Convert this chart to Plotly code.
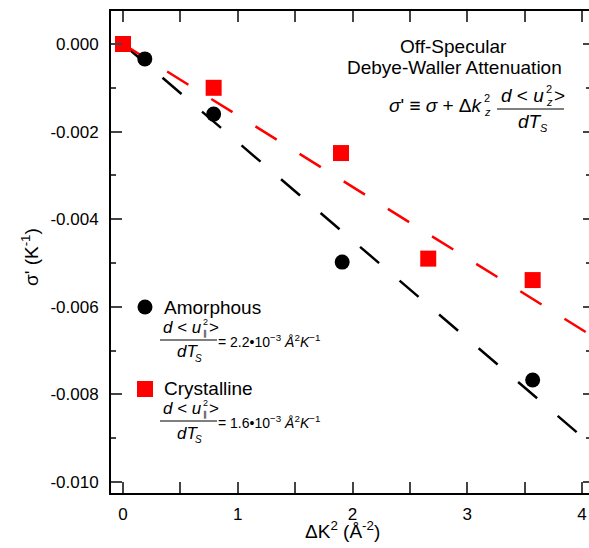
import plotly.graph_objects as go

# ---------------- data ----------------
amorph_x = [0.19, 0.79, 1.91, 3.57]
amorph_y = [-0.00034, -0.0016, -0.00498, -0.00767]
cryst_x = [0.0, 0.79, 1.90, 2.66, 3.57]
cryst_y = [0.0, -0.0010, -0.00249, -0.0049, -0.00539]
fit_x = [0.0, 4.06]
amorph_fit = [0.0, -0.00910]
cryst_fit = [0.0, -0.00662]
x_ticks = [0, 1, 2, 3, 4]
y_ticks = [0.0, -0.002, -0.004, -0.006, -0.008, -0.010]
y_ticklabels = ["0.000", "-0.002", "-0.004", "-0.006", "-0.008", "-0.010"]

W, H = 589, 548
L, R, T, B = 111, 589, 11, 493
FONT = "Arial, Liberation Sans, sans-serif"
SP = "\u00a0"


def px(x):
    return (x - L) / (R - L)


def py(y):
    return (B - y) / (B - T)


fig = go.Figure()
fig.add_trace(go.Scatter(x=fit_x, y=amorph_fit, mode="lines",
                         line=dict(color="black", width=2.5, dash="25px,27px"),
                         hoverinfo="skip"))
fig.add_trace(go.Scatter(x=fit_x, y=cryst_fit, mode="lines",
                         line=dict(color="#ff0000", width=2.5, dash="25px,27px"),
                         hoverinfo="skip"))
fig.add_trace(go.Scatter(x=amorph_x, y=amorph_y, mode="markers",
                         marker=dict(symbol="circle", size=15, color="black"),
                         name="Amorphous"))
fig.add_trace(go.Scatter(x=cryst_x, y=cryst_y, mode="markers",
                         marker=dict(symbol="square", size=16, color="#ff0000"),
                         name="Crystalline"))
# helper trace for the right-hand tick axis
fig.add_trace(go.Scatter(x=[0], y=[0], yaxis="y2", mode="markers",
                         marker=dict(opacity=0), hoverinfo="skip"))

ann = []


def txt(x, y, s, size=16, anchor="center", angle=0):
    ann.append(dict(x=px(x), y=py(y), xref="paper", yref="paper", text=s,
                    showarrow=False, xanchor=anchor, yanchor="middle",
                    textangle=angle, borderpad=0,
                    font=dict(family=FONT, size=size, color="black")))


shapes = []


def hline(x0, x1, y, w=1.2):
    shapes.append(dict(type="line", xref="paper", yref="paper",
                       x0=px(x0), x1=px(x1), y0=py(y), y1=py(y),
                       line=dict(color="black", width=w)))


# ---- top right annotation ----
txt(453, 47, "Off-Specular", 19)
txt(454, 67, "Debye-Waller Attenuation", 19)
txt(388, 106, "<i>σ</i>'" + SP + "≡" + SP + "<i>σ</i>" + SP + "+" + SP + "Δ<i>k</i>",
    19, anchor="left")
txt(483, 98, "2", 11, anchor="left")
txt(483, 112, "<i>z</i>", 11, anchor="left")
# fraction
txt(500, 95, "<i>d</i>" + SP + "&lt;" + SP + "<i>u</i>", 19, anchor="left")
txt(545, 89, "2", 11, anchor="left")
txt(545, 102, "<i>z</i>", 11, anchor="left")
txt(553, 95, "&gt;", 19, anchor="left")
hline(497, 564, 109)
txt(517, 122, "<i>dT</i>", 19, anchor="left")
txt(539, 128, "<i>S</i>", 11, anchor="left")


# ---- legend ----
def legend_block(cy, name, value, symbol, color):
    if symbol == "circle":
        shapes.append(dict(type="circle", xref="paper", yref="paper",
                           xsizemode="pixel", ysizemode="pixel",
                           xanchor=px(145), yanchor=py(cy),
                           x0=-7.5, x1=7.5, y0=-7.5, y1=7.5,
                           fillcolor=color, line=dict(width=0)))
    else:
        shapes.append(dict(type="rect", xref="paper", yref="paper",
                           xsizemode="pixel", ysizemode="pixel",
                           xanchor=px(145), yanchor=py(cy + 1),
                           x0=-8, x1=8, y0=-8, y1=8,
                           fillcolor=color, line=dict(width=0)))
    txt(163, cy, name, 19, anchor="left")
    ny = cy + 20
    ly = cy + 33
    dy = cy + 45
    txt(162, ny, "<i>d</i>" + SP + "&lt;" + SP + "<i>u</i>", 17, anchor="left")
    txt(202, ny - 5, "2", 9, anchor="left")
    txt(202, ny + 6, "∥", 8, anchor="left")
    txt(208, ny, "&gt;", 17, anchor="left")
    hline(160, 217, ly)
    txt(176, dy, "<i>dT</i>", 17, anchor="left")
    txt(194, dy + 6, "<i>S</i>", 10, anchor="left")
    txt(217, ly + 1, "=" + SP + value + "•10<sup>−3</sup> <i>Å</i><sup>2</sup><i>K</i><sup>−1</sup>",
        14, anchor="left")


legend_block(307, "Amorphous", "2.2", "circle", "black")
legend_block(388, "Crystalline", "1.6", "square", "#ff0000")

# ---- axis titles ----
txt(342, 530, "ΔK<sup>2</sup> (Å<sup>-2</sup>)", 19)
txt(30, 257, "σ' (K<sup>-1</sup>)", 19, angle=-90)

x_range = [(L - 123) / 114.75, (R - 123) / 114.75]
y_per = 0.001 / 43.8
y_range = [-(B - 44) * y_per, (44 - T) * y_per]

tickfont = dict(family=FONT, size=17, color="black")
fig.update_layout(
    width=W, height=H,
    margin=dict(l=L, r=W - R, t=T, b=H - B, pad=0),
    paper_bgcolor="white", plot_bgcolor="white",
    showlegend=False,
    font=dict(family=FONT, color="black"),
    xaxis=dict(range=x_range, tickvals=x_ticks, ticks="inside", ticklen=11,
               tickwidth=2, showline=True, linewidth=2, linecolor="black",
               mirror="allticks", showgrid=False, zeroline=False,
               tickfont=tickfont, ticklabelstandoff=5,
               minor=dict(ticks="inside", ticklen=5, tickwidth=2, dtick=0.5,
                          tick0=0, showgrid=False)),
    yaxis=dict(range=y_range, tickvals=y_ticks, ticktext=y_ticklabels,
               ticks="inside", ticklen=11, tickwidth=2, showline=True,
               linewidth=2, linecolor="black", mirror=False, showgrid=False,
               zeroline=False, tickfont=tickfont, ticklabelstandoff=7,
               minor=dict(ticks="inside", ticklen=5, tickwidth=2, dtick=0.001,
                          tick0=0, showgrid=False)),
    yaxis2=dict(range=y_range, overlaying="y", side="right", tickvals=y_ticks,
                ticks="inside", ticklen=6, tickwidth=2, showline=False,
                showticklabels=False, showgrid=False, zeroline=False,
                minor=dict(ticks="inside", ticklen=3, tickwidth=2, dtick=0.001,
                           tick0=0, showgrid=False)),
    annotations=ann,
    shapes=shapes,
)

fig.write_html("out.html")
